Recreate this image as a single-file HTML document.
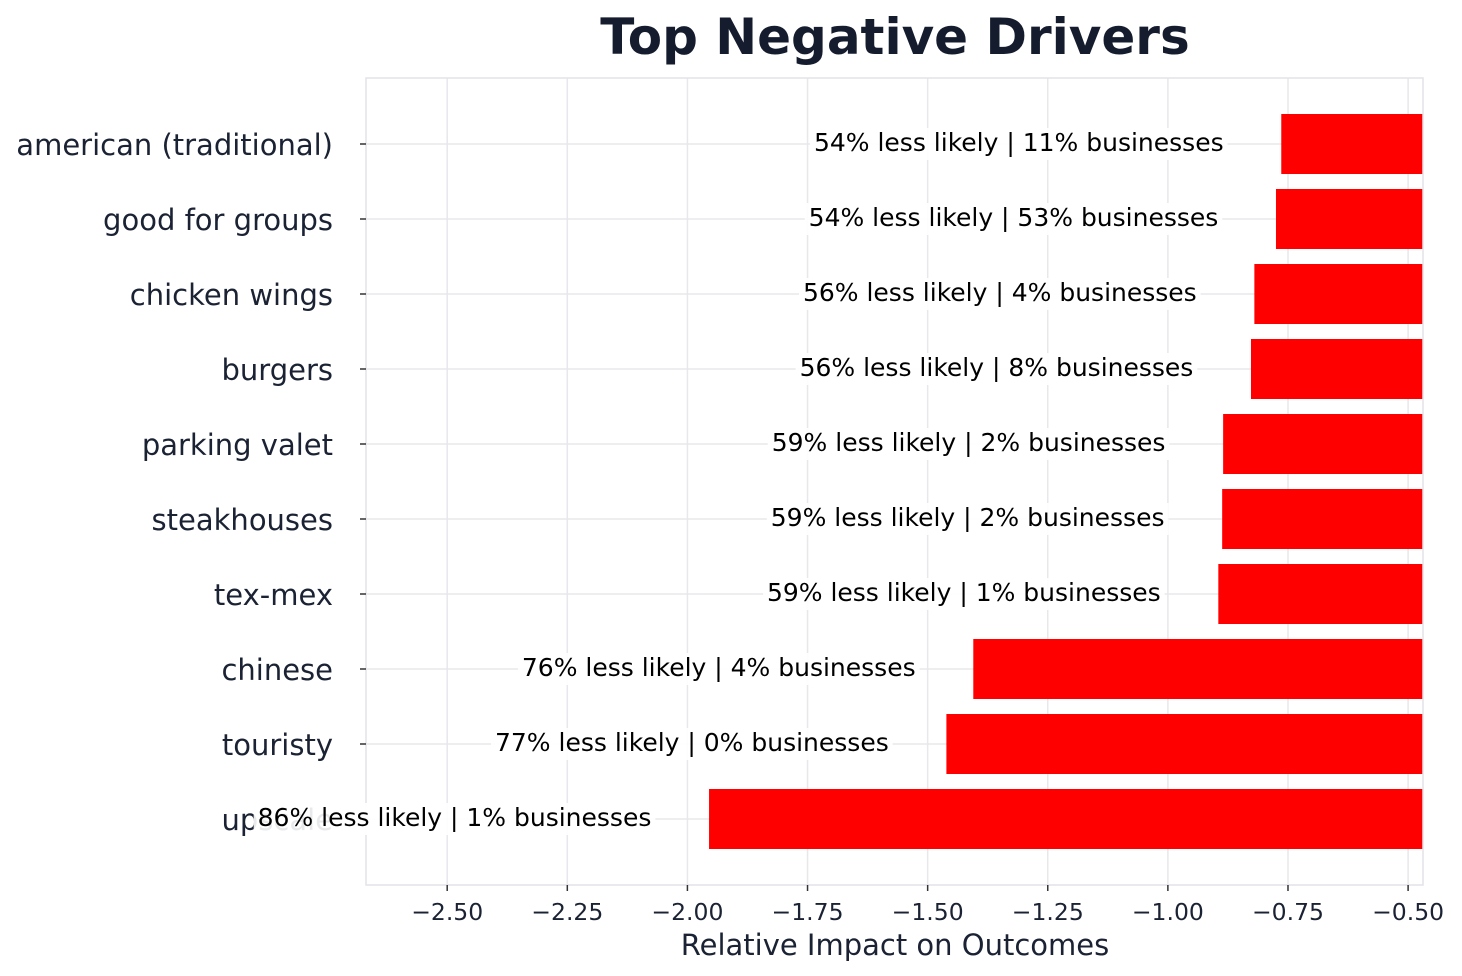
<!DOCTYPE html>
<html><head><meta charset="utf-8"><style>
html,body{margin:0;padding:0;background:#fff;}
svg{display:block;font-family:"DejaVu Sans","Liberation Sans",sans-serif;}
</style></head><body>
<svg id="chart" width="1462" height="976" xmlns="http://www.w3.org/2000/svg">
<text x="895" y="54" text-anchor="middle" font-size="50" font-weight="bold" fill="#141c2e">Top Negative Drivers</text>
<text x="895" y="955" text-anchor="middle" font-size="29" fill="#1a2233">Relative Impact on Outcomes</text>
<g id="grid"></g>
<g id="bars"></g>
<g id="frame"></g>
<g id="xticks"></g>
<g id="yticks"></g>
<g id="labels"></g>
</svg>
<script>
const categories = ["upscale","touristy","chinese","tex-mex","steakhouses","parking valet","burgers","chicken wings","good for groups","american (traditional)"];
const impacts = [-1.955,-1.461,-1.405,-0.895,-0.887,-0.885,-0.827,-0.820,-0.775,-0.764];
const barLabels = ["86% less likely | 1% businesses","77% less likely | 0% businesses","76% less likely | 4% businesses","59% less likely | 1% businesses","59% less likely | 2% businesses","59% less likely | 2% businesses","56% less likely | 8% businesses","56% less likely | 4% businesses","54% less likely | 53% businesses","54% less likely | 11% businesses"];
const xTicks = [-2.5,-2.25,-2.0,-1.75,-1.5,-1.25,-1.0,-0.75,-0.5];
const xTickLabels = ["\u22122.50","\u22122.25","\u22122.00","\u22121.75","\u22121.50","\u22121.25","\u22121.00","\u22120.75","\u22120.50"];

const NS="http://www.w3.org/2000/svg";
const L=366,R=1423,T=78,B=885;
const xMin=-2.669,xMax=-0.469;
const yMin=-0.88,yMax=9.88;
function xs(v){return L+(v-xMin)/(xMax-xMin)*(R-L);}
function ys(i){return B-(i-yMin)/(yMax-yMin)*(B-T);}
function mk(tag,attrs,parent){const e=document.createElementNS(NS,tag);for(const k in attrs)e.setAttribute(k,attrs[k]);parent.appendChild(e);return e;}
const grid=document.getElementById('grid'),bars=document.getElementById('bars'),frame=document.getElementById('frame'),xt=document.getElementById('xticks'),yt=document.getElementById('yticks'),lab=document.getElementById('labels');

xTicks.forEach((v,i)=>{
  const x=xs(v);
  const g=mk('line',{x1:x,x2:x,y1:T,y2:B,stroke:'#e8e8ec','stroke-width':1.5},grid);
  
  
  const t=mk('line',{x1:x,x2:x,y1:B,y2:B+6,stroke:'#333','stroke-width':1.5},xt);
  
  
  const tx=mk('text',{x:x,y:B+35,'text-anchor':'middle','font-size':23.5,fill:'#1a2233'},xt);
  tx.textContent=xTickLabels[i];
  
  
});
categories.forEach((c,i)=>{
  const y=ys(i);
  const g=mk('line',{x1:L,x2:R,y1:y,y2:y,stroke:'#e8e8ec','stroke-width':1.5},grid);
  
  
  const t=mk('line',{x1:L-6,x2:L,y1:y,y2:y,stroke:'#333','stroke-width':1.5},yt);
  
  
  const tx=mk('text',{x:L-33,y:y+11,'text-anchor':'end','font-size':29,fill:'#1a2233'},yt);
  tx.textContent=c;
  
  
});
const fr=mk('rect',{x:L,y:T,width:R-L,height:B-T,fill:'none',stroke:'#e3e3e8','stroke-width':1.5},frame);



const h=(ys(0)-ys(0.8));
impacts.forEach((v,i)=>{
  const x0=xs(v),y=ys(i);
  const b=mk('rect',{x:x0,y:y-h/2,width:R-x0,height:h,fill:'#ff0000'},bars);
  
  
  const tx=mk('text',{x:xs(v-0.12),y:y+7,'text-anchor':'end','font-size':25,fill:'#000'},lab);
  tx.textContent=barLabels[i];
  
  
  const bb=tx.getBBox();
  const bg=document.createElementNS(NS,'rect');
  bg.setAttribute('x',bb.x-4);bg.setAttribute('y',y-16);bg.setAttribute('width',bb.width+8);bg.setAttribute('height',32);
  bg.setAttribute('fill','#fff');bg.setAttribute('fill-opacity','0.9');
  
  
  lab.insertBefore(bg,tx);
});
</script>
</body></html>
